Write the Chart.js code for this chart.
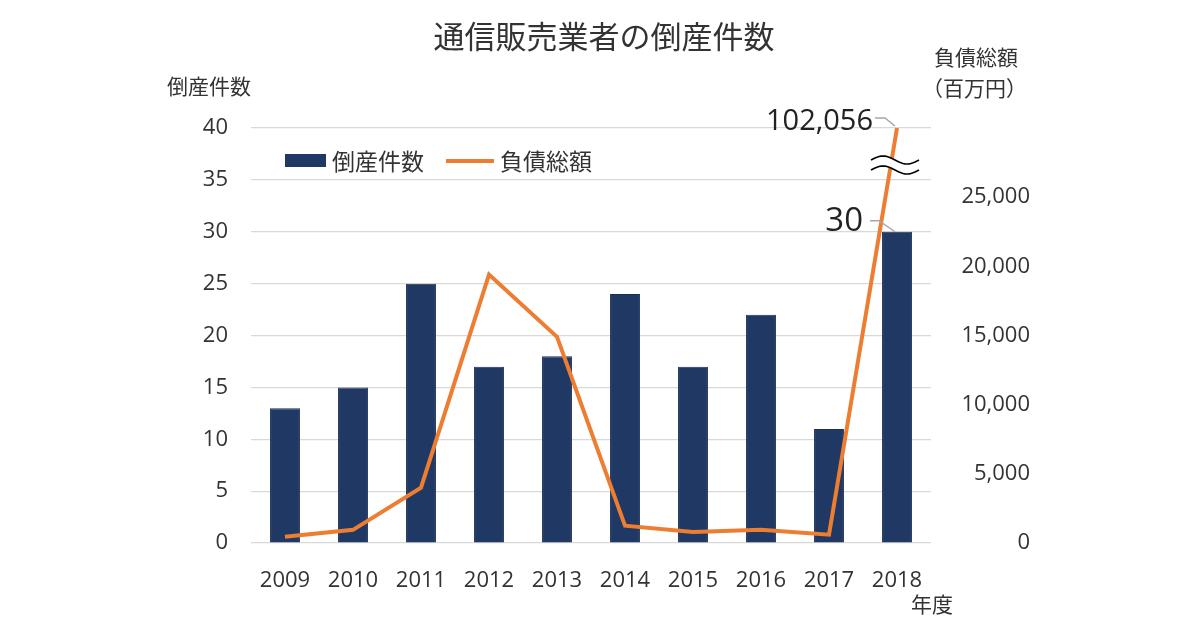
<!DOCTYPE html>
<html><head><meta charset="utf-8">
<script src="https://cdn.jsdelivr.net/npm/chart.js@4"></script>
<style>html,body{margin:0;padding:0;background:#fff}#wrap{width:1200px;height:630px}</style>
</head><body><div id="wrap"><canvas id="c" width="1200" height="630"></canvas></div>
<script>
const years = ['2009','2010','2011','2012','2013','2014','2015','2016','2017','2018'];
const bankruptcies = [13, 15, 25, 17, 18, 24, 17, 22, 11, 30];
const debt = [450, 950, 4000, 19400, 14900, 1250, 800, 950, 600, 102056]; // 百万円
const debtAxisMax = 30000;
const countTicks = [0,5,10,15,20,25,30,35,40];
const debtTicks = [0,5000,10000,15000,20000,25000];
const debtPlot = debt.map(v => Math.min(v, debtAxisMax));

const TXT = '#333333';
const JP = '"Noto Sans CJK JP", "Noto Sans", sans-serif';
const NUM = '"Open Sans", "Noto Sans", sans-serif';

const deco = {
  id: 'deco',
  afterDraw(chart) {
    const ctx = chart.ctx, ca = chart.chartArea;
    ctx.save();
    ctx.fillStyle = TXT;
    ctx.textBaseline = 'middle';
    // title
    ctx.font = '31px ' + JP; ctx.textAlign = 'center';
    ctx.fillText('通信販売業者の倒産件数', 604, 36);
    // axis titles
    ctx.font = '21px ' + JP; ctx.textAlign = 'left';
    ctx.fillText('倒産件数', 167, 86);
    ctx.fillText('負債総額', 934, 57);
    ctx.fillText('（百万円）', 922, 88);
    ctx.fillText('年度', 911, 604);
    // legend
    const ds0 = chart.data.datasets[0], ds1 = chart.data.datasets[1];
    ctx.fillStyle = ds0.backgroundColor;
    ctx.fillRect(285, 154, 41, 13);
    ctx.fillStyle = TXT; ctx.font = '23px ' + JP;
    ctx.fillText(ds0.label, 332, 161);
    ctx.strokeStyle = ds1.borderColor; ctx.lineWidth = 4;
    ctx.beginPath(); ctx.moveTo(446, 161); ctx.lineTo(494, 161); ctx.stroke();
    ctx.fillText(ds1.label, 500, 161);
    // annotations
    const bar = chart.getDatasetMeta(0).data[9];
    const pt = chart.getDatasetMeta(1).data[9];
    ctx.strokeStyle = '#a6a6a6'; ctx.lineWidth = 1.5;
    ctx.beginPath(); ctx.moveTo(bar.x - 27, bar.y - 11); ctx.lineTo(bar.x - 18, bar.y - 11); ctx.lineTo(bar.x - 2, bar.y); ctx.stroke();
    ctx.beginPath(); ctx.moveTo(pt.x - 22, pt.y - 10); ctx.lineTo(pt.x - 12, pt.y - 10); ctx.lineTo(pt.x - 2, pt.y - 2); ctx.stroke();
    ctx.fillStyle = '#222'; ctx.textAlign = 'right';
    ctx.font = '33px ' + NUM;
    ctx.fillText(String(bankruptcies[9]), bar.x - 34, bar.y - 10);
    ctx.font = '29px ' + NUM;
    ctx.fillText(debt[9].toLocaleString('en-US'), pt.x - 24, pt.y - 6);
    // break mark
    const bx = pt.x - 2, by = ca.top + 37;
    ctx.fillStyle = '#fff';
    ctx.beginPath();
    wave(ctx, bx, by - 5, false); wave(ctx, bx, by + 5, true);
    ctx.closePath(); ctx.fill();
    ctx.strokeStyle = '#000'; ctx.lineWidth = 1.6;
    ctx.beginPath(); wave(ctx, bx, by - 5, false); ctx.stroke();
    ctx.beginPath(); wave(ctx, bx, by + 5, false); ctx.stroke();
    ctx.restore();
  }
};
function wave(ctx, cx, cy, reverse) {
  const pts = [];
  for (let i = 0; i <= 24; i++) {
    const t = i / 24; const x = cx - 24 + 48 * t;
    pts.push([x, cy - 4 * Math.sin(t * Math.PI * 2)]);
  }
  if (reverse) pts.reverse();
  pts.forEach((p, i) => { if (i === 0 && !reverse) ctx.moveTo(p[0], p[1]); else ctx.lineTo(p[0], p[1]); });
}

new Chart(document.getElementById('c'), {
  data: {
    labels: years,
    datasets: [
      { type: 'bar', label: '倒産件数', data: bankruptcies, yAxisID: 'y', backgroundColor: '#1f3864',
        borderColor: '#1a2f55', borderWidth: 1, barPercentage: 0.44, categoryPercentage: 1, order: 2 },
      { type: 'line', label: '負債総額', data: debtPlot, yAxisID: 'y2', borderColor: '#ed7d31',
        borderWidth: 4, pointRadius: 0, tension: 0, fill: false, order: 1, clip: 4 }
    ]
  },
  options: {
    responsive: false, animation: false, devicePixelRatio: 1,
    layout: { padding: { top: 128, right: 170, bottom: 0, left: 0 } },
    plugins: { legend: { display: false }, title: { display: false }, tooltip: { enabled: false } },
    scales: {
      x: {
        grid: { display: false }, border: { display: false },
        ticks: { color: TXT, font: { family: NUM, size: 22 }, padding: 17 },
        afterFit(s) { s.height = 87; }
      },
      y: {
        position: 'left', min: 0, max: 40,
        afterBuildTicks(s) { s.ticks = countTicks.map(v => ({ value: v })); },
        grid: { color: '#d9d9d9', lineWidth: 1.2, drawTicks: false }, border: { display: false },
        ticks: { color: TXT, font: { family: NUM, size: 22 }, padding: 23 },
        afterFit(s) { s.width = 251; }
      },
      y2: {
        position: 'right', min: 0, max: debtAxisMax,
        afterBuildTicks(s) { s.ticks = debtTicks.map(v => ({ value: v })); },
        grid: { display: false, drawTicks: false }, border: { display: false },
        ticks: { color: TXT, font: { family: NUM, size: 22 }, crossAlign: 'far',
          callback: v => v.toLocaleString('en-US') },
        afterFit(s) { s.width = 99; }
      }
    }
  },
  plugins: [deco]
});
</script></body></html>
